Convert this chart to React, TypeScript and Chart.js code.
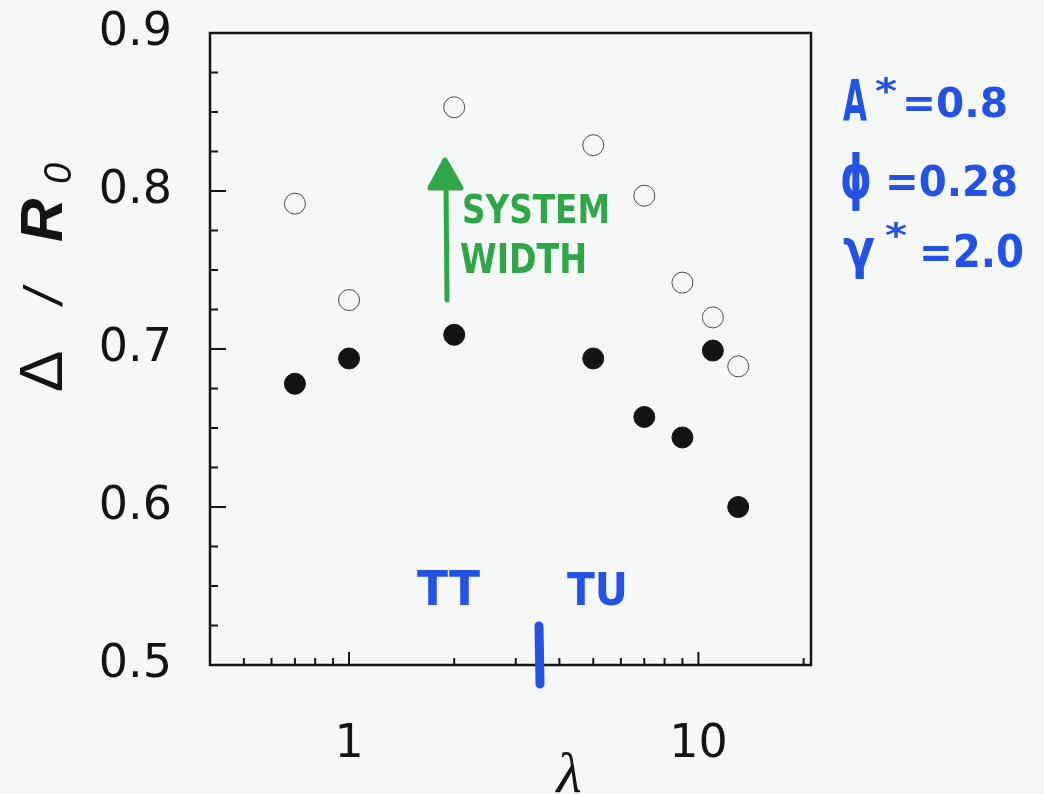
import React, { useEffect, useRef } from "react";
import { Chart, registerables } from "chart.js";

Chart.register(...registerables);

// ---- data ----
const lambdaValues = [0.7, 1, 2, 5, 7, 9, 11, 13];
const filledValues = [0.678, 0.694, 0.709, 0.694, 0.657, 0.644, 0.699, 0.6];
const openValues = [0.792, 0.731, 0.853, 0.829, 0.797, 0.742, 0.72, 0.689];

const xTickValues = [0.5, 0.6, 0.7, 0.8, 0.9, 1, 2, 3, 4, 5, 6, 7, 8, 9, 10, 20];
const xMajorValues = [1, 10];
const xMajorLabels = ["1", "10"];
const yTickValues = [
  0.5, 0.525, 0.55, 0.575, 0.6, 0.625, 0.65, 0.675, 0.7, 0.725, 0.75, 0.775,
  0.8, 0.825, 0.85, 0.875, 0.9,
];
const yMajorValues = [0.5, 0.6, 0.7, 0.8, 0.9];
const yMajorLabels = ["0.5", "0.6", "0.7", "0.8", "0.9"];

const BG = "#f6f8f8";
const INK = "#141414";
const BLUE = "#2352e4";
const GREEN = "#2fa648";

function isMajor(v: number, majors: number[]) {
  return majors.some((m) => Math.abs(m - v) < 1e-9);
}

function fitText(
  ctx: CanvasRenderingContext2D,
  text: string,
  x: number,
  baseline: number,
  targetW: number,
  capH: number,
  color: string,
  family = "'DejaVu Sans'",
  weight = "bold"
) {
  const size = capH / 0.73;
  ctx.save();
  ctx.font = `${weight} ${size}px ${family}`;
  ctx.fillStyle = color;
  ctx.textAlign = "left";
  ctx.textBaseline = "alphabetic";
  const w = ctx.measureText(text).width || 1;
  ctx.translate(x, baseline);
  ctx.scale(targetW / w, 1);
  ctx.fillText(text, 0, 0);
  ctx.restore();
}

const framePlugin = {
  id: "framePlugin",
  beforeDraw(chart: any) {
    const ctx = chart.ctx;
    ctx.save();
    ctx.fillStyle = BG;
    ctx.fillRect(0, 0, chart.width, chart.height);
    ctx.restore();
  },
  beforeDatasetsDraw(chart: any) {
    const ctx: CanvasRenderingContext2D = chart.ctx;
    const { left, right, top, bottom } = chart.chartArea;
    const xs = chart.scales.x;
    const ys = chart.scales.y;
    ctx.save();
    ctx.strokeStyle = INK;
    ctx.lineWidth = 2;
    ctx.lineCap = "butt";
    xs.ticks.forEach((t: any) => {
      const px = xs.getPixelForValue(t.value);
      const len = isMajor(t.value, xMajorValues) ? 13 : 7;
      ctx.beginPath();
      ctx.moveTo(px, bottom);
      ctx.lineTo(px, bottom - len);
      ctx.stroke();
    });
    ys.ticks.forEach((t: any) => {
      const py = ys.getPixelForValue(t.value);
      const len = isMajor(t.value, yMajorValues) ? 16 : 8;
      ctx.beginPath();
      ctx.moveTo(left, py);
      ctx.lineTo(left + len, py);
      ctx.stroke();
    });
    ctx.lineWidth = 2.5;
    ctx.strokeRect(left, top, right - left, bottom - top);
    ctx.restore();
  },
  afterDraw(chart: any) {
    const ctx: CanvasRenderingContext2D = chart.ctx;
    // y axis title: Δ / R0 (rotated)
    ctx.save();
    ctx.translate(62, 392);
    ctx.rotate(-Math.PI / 2);
    ctx.fillStyle = INK;
    ctx.textBaseline = "alphabetic";
    ctx.font = "62px 'Liberation Sans'";
    ctx.fillText("Δ", 0, 0);
    ctx.font = "italic 54px 'Liberation Sans'";
    ctx.fillText("/", 88, 0);
    ctx.font = "italic bold 60px 'Liberation Sans'";
    ctx.fillText("R", 150, 0);
    ctx.font = "italic 38px 'Liberation Sans'";
    ctx.fillText("0", 208, 9);
    ctx.restore();

    // x axis title λ
    ctx.save();
    ctx.fillStyle = INK;
    ctx.font = "italic 58px 'Liberation Serif'";
    ctx.textAlign = "center";
    ctx.textBaseline = "alphabetic";
    ctx.fillText("λ", 569, 792);
    ctx.restore();

    // handwritten parameter notes (blue)
    fitText(ctx, "A", 843, 121, 24, 42, BLUE);
    fitText(ctx, "*", 875, 103, 22, 26, BLUE);
    fitText(ctx, "=0.8", 902, 117, 106, 30, BLUE);

    fitText(ctx, "ϕ", 840, 198, 32, 44, BLUE);
    fitText(ctx, "=0.28", 885, 196, 133, 31, BLUE);

    fitText(ctx, "γ", 843, 268, 32, 40, BLUE);
    fitText(ctx, "*", 885, 247, 22, 24, BLUE);
    fitText(ctx, "=2.0", 919, 267, 105, 32, BLUE);

    // TT / TU labels and divider stroke
    fitText(ctx, "TT", 417, 605, 63, 35, BLUE);
    fitText(ctx, "TU", 567, 605, 61, 32, BLUE);
    ctx.save();
    ctx.strokeStyle = BLUE;
    ctx.lineWidth = 9;
    ctx.lineCap = "round";
    ctx.beginPath();
    ctx.moveTo(539, 626);
    ctx.lineTo(540, 684);
    ctx.stroke();
    ctx.restore();

    // green arrow + SYSTEM WIDTH
    ctx.save();
    ctx.strokeStyle = GREEN;
    ctx.fillStyle = GREEN;
    ctx.lineWidth = 5;
    ctx.lineCap = "round";
    ctx.beginPath();
    ctx.moveTo(447, 300);
    ctx.lineTo(446, 185);
    ctx.stroke();
    ctx.lineJoin = "round";
    ctx.beginPath();
    ctx.moveTo(445, 160);
    ctx.lineTo(461, 188);
    ctx.lineTo(430, 188);
    ctx.closePath();
    ctx.fill();
    ctx.stroke();
    ctx.restore();
    fitText(ctx, "SYSTEM", 462, 223, 148, 28, GREEN);
    fitText(ctx, "WIDTH", 460, 273, 127, 30, GREEN);
  },
};

export default function App() {
  const canvasRef = useRef<HTMLCanvasElement | null>(null);

  useEffect(() => {
    const canvas = canvasRef.current;
    if (!canvas) return;
    const chart = new Chart(canvas, {
      type: "scatter",
      data: {
        datasets: [
          {
            label: "open",
            data: lambdaValues.map((x, i) => ({ x, y: openValues[i] })),
            backgroundColor: "rgba(0,0,0,0)",
            borderColor: "#4a4a4a",
            borderWidth: 1,
            pointRadius: 10.5,
          },
          {
            label: "filled",
            data: lambdaValues.map((x, i) => ({ x, y: filledValues[i] })),
            backgroundColor: INK,
            borderColor: INK,
            borderWidth: 1,
            pointRadius: 10.5,
          },
        ],
      },
      options: {
        animation: false,
        responsive: false,
        layout: { padding: { left: 0, top: 33, right: 233, bottom: 0 } },
        plugins: {
          legend: { display: false },
          tooltip: { enabled: false },
          title: { display: false },
        },
        scales: {
          x: {
            type: "logarithmic",
            min: 0.4,
            max: 21,
            grid: { display: false, drawTicks: false, tickLength: 0 },
            border: { display: false },
            afterBuildTicks: (s: any) => {
              s.ticks = xTickValues.map((v) => ({ value: v }));
            },
            afterFit: (s: any) => {
              s.height = 129;
              s.paddingLeft = 0;
              s.paddingRight = 0;
            },
            ticks: {
              autoSkip: false,
              maxRotation: 0,
              minRotation: 0,
              padding: 52,
              color: INK,
              font: { family: "'DejaVu Sans'", size: 46 },
              callback: (v: any) => {
                const i = xMajorValues.findIndex((m) => Math.abs(m - v) < 1e-9);
                return i >= 0 ? xMajorLabels[i] : "";
              },
            },
          },
          y: {
            type: "linear",
            min: 0.5,
            max: 0.9,
            grid: { display: false, drawTicks: false, tickLength: 0 },
            border: { display: false },
            afterBuildTicks: (s: any) => {
              s.ticks = yTickValues.map((v) => ({ value: v }));
            },
            afterFit: (s: any) => {
              s.width = 210;
              s.paddingTop = 0;
              s.paddingBottom = 0;
            },
            ticks: {
              autoSkip: false,
              padding: 38,
              color: INK,
              font: { family: "'DejaVu Sans'", size: 46 },
              callback: (v: any) => {
                const i = yMajorValues.findIndex((m) => Math.abs(m - v) < 1e-9);
                return i >= 0 ? yMajorLabels[i] : "";
              },
            },
          },
        },
      },
      plugins: [framePlugin],
    });
    return () => chart.destroy();
  }, []);

  return (
    <div
      style={{
        position: "fixed",
        left: 0,
        top: 0,
        width: 1044,
        height: 794,
        background: BG,
      }}
    >
      <canvas ref={canvasRef} width={1044} height={794} />
    </div>
  );
}
